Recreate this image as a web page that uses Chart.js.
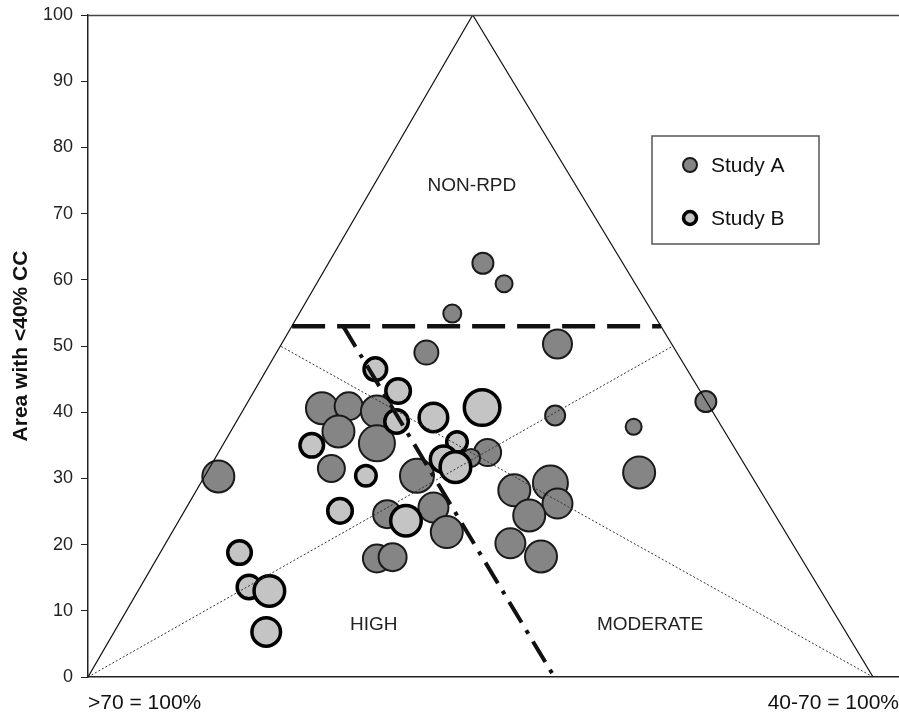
<!DOCTYPE html>
<html>
<head>
<meta charset="utf-8">
<script src="https://cdn.jsdelivr.net/npm/chart.js@4/dist/chart.umd.min.js"></script>
<style>
  html, body { margin: 0; padding: 0; background: #fff; }
  #wrap { width: 899px; height: 713px; }
</style>
</head>
<body>
<div id="wrap"><canvas id="chart" width="899" height="713"></canvas></div>
<script>
// ---- data ----
var studyAX = [50.3, 53.0, 46.4, 59.8, 43.1, 59.5, 69.5, 78.7, 70.2, 50.9, 54.3, 58.9, 59.8, 56.2, 53.8, 57.7,
               16.6, 29.8, 33.2, 31.9, 36.8, 36.8, 31.0, 41.9, 38.1, 44.0, 45.7, 36.8, 38.8, 48.8];
var studyAY = [62.5, 59.4, 54.9, 50.3, 49.0, 39.5, 37.8, 41.6, 30.9, 33.9, 28.2, 29.3, 26.2, 24.4, 20.2, 18.2,
               30.3, 40.6, 40.9, 37.1, 40.1, 35.3, 31.5, 30.4, 24.6, 25.6, 21.9, 17.9, 18.1, 33.1];
var studyAR = [10.5, 8.5, 9, 14.5, 12, 10, 8, 10.5, 16, 13.5, 16, 17.5, 15, 16, 15, 16,
               16, 16, 14, 16, 16, 18, 13.5, 17, 14, 15, 16, 14, 14, 9];

var studyBX = [36.6, 39.5, 44.0, 50.2, 39.3, 28.5, 35.4, 47.0, 45.3, 46.8, 32.1, 40.5, 19.3, 20.5, 23.1, 22.7];
var studyBY = [46.5, 43.2, 39.2, 40.7, 38.6, 35.0, 30.4, 35.5, 32.9, 31.7, 25.1, 23.6, 18.8, 13.6, 13.0, 6.8];
var studyBR = [11.3, 12.3, 14.3, 17.8, 11.8, 11.8, 10.3, 10.3, 13.3, 15.3, 12.3, 15.3, 11.8, 11.8, 15.3, 14.3];

var seriesNames = ['Study A', 'Study B'];
var yTicks = [0, 10, 20, 30, 40, 50, 60, 70, 80, 90, 100];
var xTickLabels = ['>70 = 100%', '40-70 = 100%'];
var xMax = 103.3;

// triangle and class boundaries
var triangle = [{x: 0, y: 0}, {x: 49, y: 100}, {x: 100, y: 0}];
var medianLeft = [{x: 0, y: 0}, {x: 74.5, y: 50}];
var medianRight = [{x: 100, y: 0}, {x: 24.5, y: 50}];
var nonRpdLine = [{x: 26, y: 53}, {x: 73, y: 53}];
var highModLine = [{x: 32.5, y: 53}, {x: 59.4, y: 0}];

var regionNames = ['NON-RPD', 'HIGH', 'MODERATE'];
var regionAt = [{x: 48.9, y: 74.2}, {x: 36.4, y: 7.9}, {x: 71.6, y: 7.9}];

function points(xs, ys, rs) {
    var out = [];
    for (var i = 0; i < xs.length; i++) out.push({x: xs[i], y: ys[i], r: rs[i]});
    return out;
}

var FONT = 'Liberation Sans, Arial, Helvetica, sans-serif';

function lineSet(data, width, dash, color) {
    return {
        type: 'line', data: data, borderColor: color || '#111', borderWidth: width,
        borderDash: dash || [], pointRadius: 0, fill: false, order: 0, tension: 0,
        borderCapStyle: 'butt'
    };
}

var overlay = {
    id: 'overlay',
    afterDraw: function(chart) {
        var ctx = chart.ctx, xs = chart.scales.x, ys = chart.scales.y, a = chart.chartArea;
        ctx.save();
        // top frame line
        ctx.strokeStyle = '#444';
        ctx.lineWidth = 1.5;
        ctx.beginPath();
        ctx.moveTo(a.left, a.top + 0.5);
        ctx.lineTo(a.right, a.top + 0.5);
        ctx.stroke();

        // region labels
        ctx.fillStyle = '#222';
        ctx.font = '19px ' + FONT;
        ctx.textAlign = 'center';
        ctx.textBaseline = 'middle';
        regionNames.forEach(function(n, i) {
            ctx.fillText(n, xs.getPixelForValue(regionAt[i].x), ys.getPixelForValue(regionAt[i].y));
        });

        // legend box
        var bx = 652, by = 136, bw = 167, bh = 108;
        ctx.fillStyle = '#fff';
        ctx.fillRect(bx, by, bw, bh);
        ctx.strokeStyle = '#555';
        ctx.lineWidth = 1.5;
        ctx.strokeRect(bx, by, bw, bh);
        ctx.font = '21px ' + FONT;
        ctx.textAlign = 'left';
        var rows = [165, 218];
        [1, 2].forEach(function(di, k) {
            var ds = chart.data.datasets[di];
            ctx.beginPath();
            ctx.arc(690, rows[k], k === 0 ? 7 : 6.5, 0, Math.PI * 2);
            ctx.fillStyle = ds.backgroundColor;
            ctx.fill();
            ctx.lineWidth = ds.borderWidth;
            ctx.strokeStyle = ds.borderColor;
            ctx.stroke();
            ctx.fillStyle = '#111';
            ctx.fillText(ds.label, 711, rows[k] + 1);
        });
        ctx.restore();
    }
};

new Chart(document.getElementById('chart'), {
    type: 'bubble',
    data: {
        datasets: [
            lineSet(triangle, 1.2),
            {
                type: 'bubble', label: seriesNames[0], data: points(studyAX, studyAY, studyAR),
                backgroundColor: '#858585', borderColor: '#1a1a1a', borderWidth: 2, order: 2
            },
            {
                type: 'bubble', label: seriesNames[1], data: points(studyBX, studyBY, studyBR),
                backgroundColor: '#c4c4c4', borderColor: '#000', borderWidth: 3.5, order: 1
            },
            lineSet(medianLeft, 1, [2, 2], '#333'),
            lineSet(medianRight, 1, [2, 2], '#333'),
            lineSet(nonRpdLine, 4.5, [33, 12]),
            lineSet(highModLine, 4, [24, 9, 4, 9])
        ]
    },
    options: {
        responsive: false,
        animation: false,
        events: [],
        layout: { autoPadding: false, padding: { top: 15, right: 0, left: 0, bottom: 0 } },
        plugins: {
            legend: { display: false },
            tooltip: { enabled: false }
        },
        scales: {
            x: {
                type: 'linear',
                min: 0,
                max: xMax,
                grid: { display: false, drawTicks: false },
                border: { display: true, color: '#222', width: 1.5 },
                afterBuildTicks: function(scale) {
                    scale.ticks = [{value: 0}, {value: xMax}];
                },
                afterFit: function(scale) {
                    scale.height = 36;
                    scale.paddingLeft = 0;
                    scale.paddingRight = 0;
                },
                ticks: {
                    align: 'inner',
                    padding: 14,
                    maxRotation: 0,
                    autoSkip: false,
                    color: '#111',
                    font: { family: FONT, size: 21 },
                    callback: function(value, index) { return xTickLabels[index]; }
                }
            },
            y: {
                type: 'linear',
                min: 0,
                max: 100,
                afterBuildTicks: function(scale) {
                    scale.ticks = yTicks.map(function(v) { return {value: v}; });
                },
                afterFit: function(scale) {
                    scale.width = 88;
                    scale.paddingTop = 0;
                    scale.paddingBottom = 0;
                },
                grid: { display: true, drawOnChartArea: false, drawTicks: true, tickLength: 7, color: '#222' },
                border: { display: true, color: '#222', width: 1.5 },
                title: {
                    display: true,
                    text: 'Area with <40% CC',
                    color: '#111',
                    padding: { top: 9, bottom: 0 },
                    font: { family: FONT, size: 21, weight: 'bold' }
                },
                ticks: {
                    padding: 8,
                    color: '#222',
                    font: { family: FONT, size: 18 }
                }
            }
        }
    },
    plugins: [overlay]
});
</script>
</body>
</html>
